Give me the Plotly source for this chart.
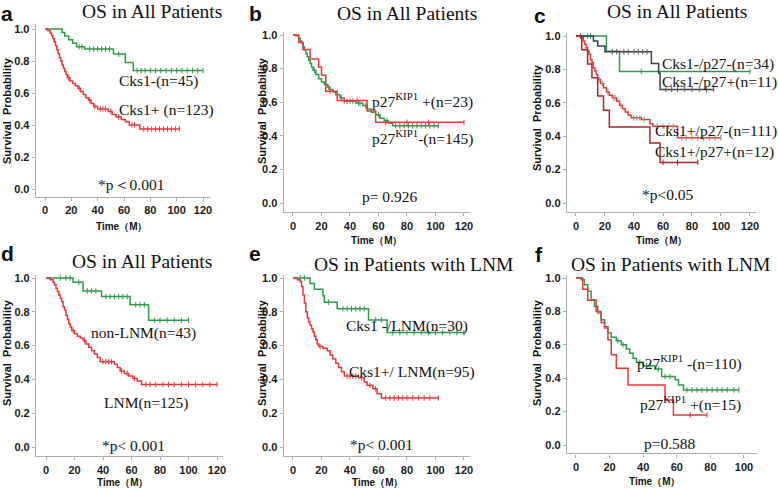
import numpy as np
import plotly.graph_objects as go

W, H = 778, 489
GREEN = "#2f9a4c"
RED = "#e8383c"
SLATE = "#34434c"
DRED = "#a8262a"
SANS = "Arial, Liberation Sans, sans-serif"
SERIF = "Times New Roman, Liberation Serif, serif"

# ---------------- data (event times, survival after event, censor times) -------------
a_neg_t = [13, 15, 18, 21, 24, 30, 52, 61, 67]
a_neg_s = [0.978, 0.956, 0.933, 0.911, 0.889, 0.875, 0.843, 0.79, 0.74]
a_neg_c = [26, 28, 34, 37, 40, 43, 46, 49, 56, 70, 73, 76, 80, 84, 88, 92, 96, 100, 104, 108, 112, 116, 120]
a_pos_t = [2, 4, 5, 6, 7, 8, 9, 10, 11, 12, 13, 14, 15, 16, 17, 19, 21, 23, 25, 27, 29, 31, 33, 35, 37, 40, 48, 51, 54, 58, 61, 64, 72]
a_pos_s = [0.99, 0.975, 0.96, 0.94, 0.92, 0.895, 0.87, 0.845, 0.82, 0.80, 0.775, 0.755, 0.735, 0.715, 0.695, 0.675, 0.66, 0.645, 0.63, 0.61, 0.59, 0.57, 0.555, 0.535, 0.515, 0.50, 0.485, 0.465, 0.45, 0.435, 0.42, 0.40, 0.375]
a_pos_c = [18, 26, 34, 38, 42, 44, 46, 50, 56, 66, 68, 75, 78, 81, 84, 87, 90, 93, 96, 99, 102]

b_pos_t = [4, 7, 12, 18, 20, 23, 31, 52, 58]
b_pos_s = [0.957, 0.913, 0.857, 0.81, 0.76, 0.665, 0.61, 0.548, 0.48]
b_pos_c = [26, 36, 45, 65, 80, 95, 120]
b_neg_t = [2, 4, 5, 6, 7, 8, 9, 10, 11, 12, 13, 14, 16, 18, 20, 22, 24, 26, 28, 30, 33, 36, 44, 49, 52, 55, 58, 61, 64, 67, 70]
b_neg_s = [0.995, 0.98, 0.965, 0.95, 0.93, 0.91, 0.89, 0.87, 0.85, 0.83, 0.81, 0.79, 0.765, 0.74, 0.72, 0.705, 0.69, 0.675, 0.66, 0.645, 0.625, 0.605, 0.595, 0.58, 0.56, 0.54, 0.525, 0.505, 0.49, 0.475, 0.46]
b_neg_c = [15, 25, 34, 38, 40, 42, 46, 47, 51, 60, 66, 72, 75, 78, 81, 84, 87, 90, 93, 96, 99, 102]

c_nn_t = [12, 15, 20, 52, 57, 58]
c_nn_s = [0.97, 0.94, 0.906, 0.836, 0.777, 0.68]
c_nn_c = [3, 8, 25, 28, 33, 36, 40, 43, 46, 49, 62, 66, 70, 75, 80, 85, 90, 95]
c_np_t = [21, 30]
c_np_s = [0.909, 0.788]
c_np_c = [10, 45, 120]
c_pn_t = [3, 5, 6, 7, 8, 9, 10, 11, 12, 13, 14, 15, 17, 19, 21, 23, 25, 28, 30, 32, 34, 36, 38, 45, 51, 53, 70]
c_pn_s = [0.99, 0.97, 0.95, 0.93, 0.91, 0.89, 0.86, 0.84, 0.81, 0.79, 0.77, 0.74, 0.715, 0.69, 0.665, 0.645, 0.63, 0.61, 0.585, 0.565, 0.545, 0.525, 0.51, 0.50, 0.475, 0.46, 0.39]
c_pn_c = [16, 18, 22, 26, 27, 31, 40, 42, 44, 47, 56, 60, 64, 67, 73, 76, 80, 84, 88, 92, 96, 100]
c_pp_t = [4, 8, 11, 15, 19, 23, 51, 58]
c_pp_s = [0.917, 0.833, 0.75, 0.64, 0.555, 0.455, 0.36, 0.243]
c_pp_c = [60, 70, 84]

d_neg_t = [19, 26, 39, 59, 72]
d_neg_s = [0.975, 0.923, 0.89, 0.842, 0.75]
d_neg_c = [10, 14, 17, 23, 29, 32, 35, 42, 45, 48, 51, 54, 57, 63, 66, 69, 76, 80, 85, 90, 95, 100]
d_pos_t = [3, 5, 6, 7, 8, 9, 10, 11, 12, 13, 14, 15, 16, 17, 18, 20, 22, 24, 26, 28, 30, 32, 34, 36, 38, 48, 50, 52, 55, 58, 61, 64, 67]
d_pos_s = [0.99, 0.975, 0.96, 0.94, 0.92, 0.90, 0.88, 0.86, 0.83, 0.81, 0.78, 0.755, 0.73, 0.71, 0.69, 0.67, 0.655, 0.645, 0.63, 0.61, 0.59, 0.57, 0.55, 0.53, 0.505, 0.49, 0.47, 0.45, 0.435, 0.42, 0.405, 0.39, 0.37]
d_pos_c = [19, 27, 40, 42, 44, 46, 53, 57, 62, 70, 73, 77, 82, 86, 90, 95, 100, 105, 110, 115, 120]

e_neg_t = [12, 15, 21, 22, 31, 53, 66]
e_neg_s = [0.967, 0.933, 0.895, 0.857, 0.818, 0.752, 0.677]
e_neg_c = [5, 8, 25, 35, 38, 41, 44, 47, 50, 58, 62, 70, 75, 80, 85, 90, 95, 100, 105, 110, 115, 120]
e_pos_t = [3, 5, 6, 7, 8, 9, 10, 11, 12, 13, 14, 15, 16, 17, 18, 21, 24, 26, 28, 30, 32, 34, 36, 46, 50, 52, 56, 59, 62]
e_pos_s = [0.99, 0.98, 0.95, 0.90, 0.85, 0.80, 0.765, 0.74, 0.72, 0.70, 0.68, 0.655, 0.635, 0.61, 0.595, 0.585, 0.57, 0.545, 0.52, 0.495, 0.47, 0.445, 0.42, 0.41, 0.385, 0.365, 0.345, 0.315, 0.29]
e_pos_c = [19, 38, 40, 42, 44, 48, 54, 58, 65, 68, 71, 74, 77, 80, 84, 88, 92, 96, 102]

f_neg_t = [3, 5, 7, 9, 11, 13, 15, 17, 19, 21, 24, 27, 30, 32, 34, 36, 40, 47, 51, 59, 61, 64]
f_neg_s = [0.99, 0.96, 0.92, 0.87, 0.83, 0.79, 0.75, 0.71, 0.67, 0.645, 0.625, 0.60, 0.575, 0.55, 0.52, 0.495, 0.475, 0.455, 0.41, 0.39, 0.36, 0.33]
f_neg_c = [25, 28, 38, 42, 44, 49, 53, 56, 66, 69, 72, 75, 78, 81, 84, 87, 90, 94, 97]
f_pos_t = [4, 7, 12, 15, 17, 19, 21, 24, 31, 53, 58]
f_pos_s = [0.933, 0.867, 0.80, 0.733, 0.70, 0.63, 0.54, 0.46, 0.36, 0.27, 0.18]
f_pos_c = [68, 78]

x_ticks_120 = [0, 20, 40, 60, 80, 100, 120]
x_ticks_100 = [0, 20, 40, 60, 80, 100]
y_ticks = [0.0, 0.2, 0.4, 0.6, 0.8, 1.0]

fig = go.Figure()


def px(x):
    return x / W


def py(y):
    return 1 - y / H


def add_km(n, t, s, c, color, mcolor=None):
    end = max(max(c), max(t))
    xs = [0] + list(t) + [end]
    ys = [1.0] + list(s) + [s[-1]]
    fig.add_trace(go.Scatter(x=xs, y=ys, mode="lines", line=dict(color=color, width=1.5, shape="hv"),
                             xaxis=f"x{n}", yaxis=f"y{n}", hoverinfo="skip"))
    tt = np.array(t)
    ss = np.array([1.0] + list(s))
    cy = [ss[np.searchsorted(tt, ci, side="right")] for ci in c]
    fig.add_trace(go.Scatter(x=c, y=cy, mode="markers",
                             marker=dict(symbol="line-ns", size=4, line=dict(width=1, color=mcolor or color)),
                             xaxis=f"x{n}", yaxis=f"y{n}", hoverinfo="skip"))


# panel geometry (reference pixels): x=0, x=xref, y=1, y=0, and the axis ranges
panels = {
    1: dict(x0=45, x1=203, xv=120, y1=29, y0=189, xr=[-7, 125], yr=[-0.05, 1.03], ticks=x_ticks_120),
    2: dict(x0=293, x1=464, xv=120, y1=35, y0=203, xr=[-6.5, 124], yr=[-0.055, 1.02], ticks=x_ticks_120),
    3: dict(x0=576, x1=750, xv=120, y1=36, y0=203, xr=[-6.3, 124], yr=[-0.055, 1.02], ticks=x_ticks_120),
    4: dict(x0=46, x1=217, xv=120, y1=278, y0=447, xr=[-7, 124], yr=[-0.055, 1.02], ticks=x_ticks_120),
    5: dict(x0=293, x1=464, xv=120, y1=278, y0=447, xr=[-6.5, 124], yr=[-0.055, 1.02], ticks=x_ticks_120),
    6: dict(x0=576, x1=744, xv=100, y1=278, y0=445, xr=[-5.4, 107.5], yr=[-0.05, 1.02], ticks=x_ticks_100),
}

layout = {}
for n, p in panels.items():
    sx = (p["x1"] - p["x0"]) / p["xv"]
    left = p["x0"] + p["xr"][0] * sx
    right = p["x0"] + p["xr"][1] * sx
    sy = p["y0"] - p["y1"]
    top = p["y0"] - p["yr"][1] * sy
    bottom = p["y0"] - p["yr"][0] * sy
    common = dict(showline=True, linecolor="#adadad", linewidth=1.3, ticks="outside", ticklen=3,
                  tickcolor="#adadad", tickwidth=1, showgrid=False, zeroline=False, automargin=False,
                  tickfont=dict(family=SANS, size=11, color="#1a1a1a", weight="bold"))
    layout[f"xaxis{n}"] = dict(domain=[px(left), px(right)], range=p["xr"], anchor=f"y{n}",
                               tickvals=p["ticks"], **common)
    layout[f"yaxis{n}"] = dict(domain=[py(bottom), py(top)], range=p["yr"], anchor=f"x{n}",
                               tickvals=y_ticks, tickformat=".1f", **common)

add_km(1, a_neg_t, a_neg_s, a_neg_c, GREEN)
add_km(1, a_pos_t, a_pos_s, a_pos_c, RED)
add_km(2, b_neg_t, b_neg_s, b_neg_c, GREEN)
add_km(2, b_pos_t, b_pos_s, b_pos_c, RED)
add_km(3, c_np_t, c_np_s, c_np_c, GREEN)
add_km(3, c_nn_t, c_nn_s, c_nn_c, SLATE, "#6b5560")
add_km(3, c_pn_t, c_pn_s, c_pn_c, RED, "#7f9f78")
add_km(3, c_pp_t, c_pp_s, c_pp_c, DRED)
add_km(4, d_neg_t, d_neg_s, d_neg_c, GREEN)
add_km(4, d_pos_t, d_pos_s, d_pos_c, RED)
add_km(5, e_neg_t, e_neg_s, e_neg_c, GREEN)
add_km(5, e_pos_t, e_pos_s, e_pos_c, RED)
add_km(6, f_neg_t, f_neg_s, f_neg_c, GREEN)
add_km(6, f_pos_t, f_pos_s, f_pos_c, RED)

ann = []


def text(x, y, s, size=15.5, family=SERIF, bold=False, angle=0, xanchor="center"):
    ann.append(dict(x=px(x), y=py(y), xref="paper", yref="paper", text=s, showarrow=False,
                    xanchor=xanchor, yanchor="middle", textangle=angle,
                    font=dict(family=family, size=size, color="#111", weight="bold" if bold else "normal")))


# panel letters
for lx, ly, l in [(7, 13, "a"), (256, 13, "b"), (540, 15, "c"), (8, 253, "d"), (255, 253, "e"), (539, 254, "f")]:
    text(lx, ly, l, size=21, family=SANS, bold=True)

# titles
text(152, 11, "OS in All Patients", size=19.5)
text(407, 14, "OS in All Patients", size=19.5)
text(677, 11, "OS in All Patients", size=19.5)
text(142, 261, "OS in All Patients", size=19.5)
text(413, 264, "OS in Patients with LNM", size=19.5)
text(670, 264, "OS in Patients with LNM", size=19.5)

# axis titles
for yx, yy in [(7, 111), (262, 111), (537, 118), (7, 353), (262, 353), (537, 353)]:
    text(yx, yy, "Survival  Probability", size=11, family=SANS, bold=True, angle=-90)
for tx, ty in [(122, 226), (377, 240), (662, 240), (123, 482), (378, 482), (655, 481)]:
    text(tx, ty, "Time（M）", size=10, family=SANS, bold=True)

# curve labels
text(117, 81, "Cks1-(n=45)", xanchor="left")
text(117, 110, "Cks1+ (n=123)", xanchor="left")
text(131, 184, "*p＜0.001")

text(370, 100, "p27<sup>KIP1</sup> +(n=23)", xanchor="left")
text(370, 137, "p27<sup>KIP1</sup>-(n=145)", xanchor="left")
text(390, 196, "p= 0.926")

text(660, 64, "Cks1-/p27-(n=34)", xanchor="left")
text(660, 82, "Cks1-/p27+(n=11)", xanchor="left")
text(653, 131, "Cks1+/p27-(n=111)", xanchor="left")
text(653, 152, "Cks1+/p27+(n=12)", xanchor="left")
text(668, 194, "*p&lt;0.05")

text(89, 333, "non-LNM(n=43)", xanchor="left")
text(102, 403, "LNM(n=125)", xanchor="left")
text(133, 445, "*p&lt; 0.001")

text(344, 326, "Cks1 -/LNM(n=30)", xanchor="left")
text(347, 372, "Cks1+/ LNM(n=95)", xanchor="left")
text(381, 444, "*p&lt; 0.001")

text(635, 362, "p27<sup>KIP1</sup> -(n=110)", xanchor="left")
text(638, 403, "p27<sup>KIP1</sup> +(n=15)", xanchor="left")
text(670, 443, "p=0.588")

fig.update_layout(width=W, height=H, margin=dict(l=0, r=0, t=0, b=0), showlegend=False,
                  plot_bgcolor="white", paper_bgcolor="white", annotations=ann, **layout)
fig.write_html("out.html", config={"displayModeBar": False},
               post_script="document.body.style.margin='0';document.body.style.overflow='hidden';")
